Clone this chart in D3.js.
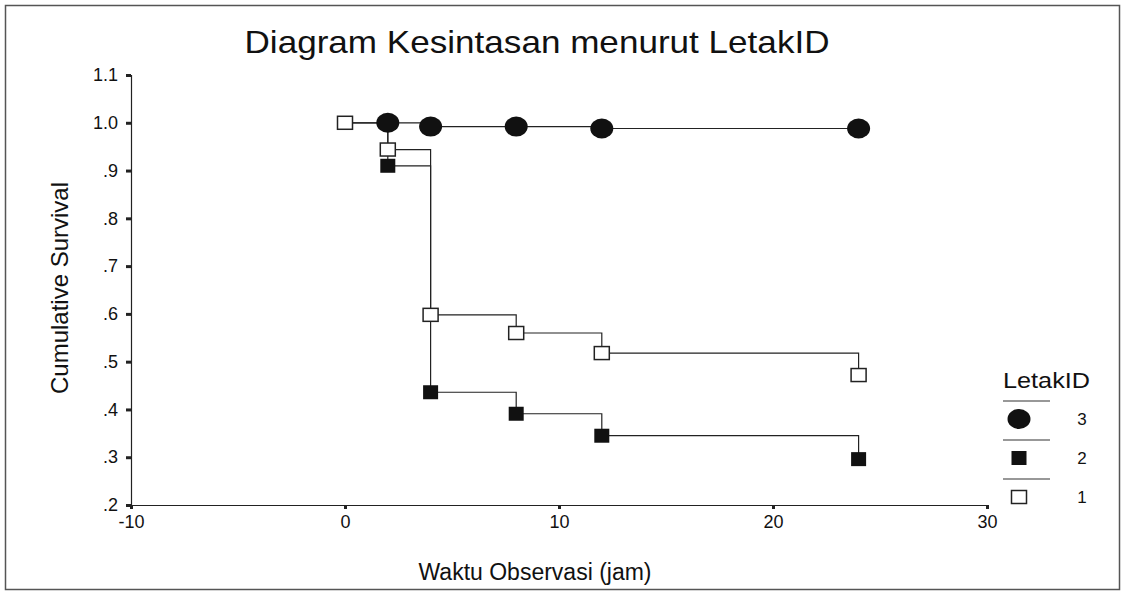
<!DOCTYPE html>
<html>
<head>
<meta charset="utf-8">
<script src="https://cdn.jsdelivr.net/npm/d3@7"></script>
<style>
  body { margin: 0; background: #fff; }
  text { font-family: "Liberation Sans", Arial, sans-serif; fill: #111; }
  .axis path, .axis line { stroke: #222; }
</style>
</head>
<body>
<div id="chart"></div>
<script>
// survival data
var groups = ["3", "2", "1"];
var times1 = [0, 2, 4, 8, 12, 24];
var surv1 = [1.0, 0.944, 0.598, 0.56, 0.518, 0.472];
var times2 = [2, 4, 8, 12, 24];
var surv2 = [0.91, 0.436, 0.391, 0.345, 0.296];
var times3 = [2, 4, 8, 12, 24];
var surv3 = [1.0, 0.992, 0.992, 0.988, 0.988];

var xTicks = [-10, 0, 10, 20, 30];
var xTickLabels = ["-10", "0", "10", "20", "30"];
var yTicks = [0.2, 0.3, 0.4, 0.5, 0.6, 0.7, 0.8, 0.9, 1.0, 1.1];
var yTickLabels = [".2", ".3", ".4", ".5", ".6", ".7", ".8", ".9", "1.0", "1.1"];

var W = 1127, H = 592;
var svg = d3.select("#chart").append("svg")
    .attr("width", W)
    .attr("height", H);

// outer frame
svg.append("rect")
    .attr("x", 5.5).attr("y", 5.5)
    .attr("width", 1114).attr("height", 584)
    .attr("fill", "none")
    .attr("stroke", "#555")
    .attr("stroke-width", 1.5);

var x = d3.scaleLinear().domain([-10, 30]).range([131, 987]);
var y = d3.scaleLinear().domain([0.2, 1.1]).range([505, 75]);

/*********************
 * AXES
 *********************/
var xAxis = svg.append("g")
    .attr("class", "axis")
    .attr("transform", "translate(0,505)")
    .call(d3.axisBottom(x).tickValues(xTicks)
        .tickFormat(function (d, i) { return xTickLabels[i]; })
        .tickSize(4).tickPadding(6).tickSizeOuter(0));
xAxis.selectAll("line").attr("stroke-width", 3);
xAxis.selectAll("text").style("font-size", "18px");
xAxis.select(".domain").attr("stroke-width", 1.2);

var yAxis = svg.append("g")
    .attr("class", "axis")
    .attr("transform", "translate(131,0)")
    .call(d3.axisLeft(y).tickValues(yTicks)
        .tickFormat(function (d, i) { return yTickLabels[i]; })
        .tickSize(5).tickPadding(8).tickSizeOuter(0));
yAxis.selectAll("line").attr("stroke-width", 3);
yAxis.selectAll("text").style("font-size", "18px");
yAxis.select(".domain").attr("stroke-width", 1.2);
yAxis.select(".domain").attr("d", "M0.5," + y(1.1) + "V" + y(0.2));
xAxis.select(".domain").attr("d", "M" + x(-10) + ",0.5H" + x(30));

// titles
svg.append("text")
    .attr("x", 537).attr("y", 53)
    .attr("text-anchor", "middle")
    .attr("textLength", 585)
    .attr("lengthAdjust", "spacingAndGlyphs")
    .style("font-size", "32px")
    .text("Diagram Kesintasan menurut LetakID");

svg.append("text")
    .attr("x", 535).attr("y", 580)
    .attr("text-anchor", "middle")
    .style("font-size", "23px")
    .text("Waktu Observasi (jam)");

svg.append("text")
    .attr("transform", "translate(68,288) rotate(-90)")
    .attr("text-anchor", "middle")
    .style("font-size", "24px")
    .text("Cumulative Survival");

/*********************
 * CURVES
 *********************/
function pts(times, surv, start) {
    var p = times.map(function (t, i) { return { t: t, s: surv[i] }; });
    if (start) p.unshift({ t: 0, s: 1.0 });
    return p;
}
var series = [
    { key: "3", pts: pts(times3, surv3, false), marks: pts(times3, surv3, false) },
    { key: "2", pts: pts(times2, surv2, true), marks: pts(times2, surv2, false) },
    { key: "1", pts: pts(times1, surv1, false), marks: pts(times1, surv1, false) }
];

var line = d3.line()
    .x(function (d) { return x(d.t); })
    .y(function (d) { return y(d.s); })
    .curve(d3.curveStepAfter);

svg.selectAll("path.curve")
    .data(series)
    .enter()
    .append("path")
    .attr("class", "curve")
    .attr("d", function (d) { return line(d.pts); })
    .attr("fill", "none")
    .attr("stroke", "#222")
    .attr("stroke-width", 1.2);

function drawMark(g, key, cx, cy) {
    if (key === "3") {
        g.append("ellipse")
            .attr("cx", cx).attr("cy", cy)
            .attr("rx", 11.5).attr("ry", 10)
            .attr("fill", "#111");
    } else if (key === "2") {
        g.append("rect")
            .attr("x", cx - 7.5).attr("y", cy - 7)
            .attr("width", 15).attr("height", 14)
            .attr("fill", "#111");
    } else {
        g.append("rect")
            .attr("x", cx - 7.5).attr("y", cy - 6.5)
            .attr("width", 15).attr("height", 13)
            .attr("fill", "#fff")
            .attr("stroke", "#222")
            .attr("stroke-width", 1.5);
    }
}

var markG = svg.append("g");
series.forEach(function (s) {
    s.marks.forEach(function (d) {
        drawMark(markG, s.key, x(d.t), y(d.s));
    });
});

/*********************
 * LEGEND
 *********************/
svg.append("text")
    .attr("x", 1003).attr("y", 388)
    .attr("textLength", 87)
    .attr("lengthAdjust", "spacingAndGlyphs")
    .style("font-size", "22px")
    .text("LetakID");

var legend = svg.append("g");
groups.forEach(function (k, i) {
    var ly = 401 + i * 39;
    legend.append("line")
        .attr("x1", 1003).attr("x2", 1050)
        .attr("y1", ly).attr("y2", ly)
        .attr("stroke", "#333").attr("stroke-width", 1.2);
    drawMark(legend, k, 1019, ly + 18);
    legend.append("text")
        .attr("x", 1082).attr("y", ly + 24)
        .attr("text-anchor", "middle")
        .style("font-size", "17px")
        .text(k);
});
</script>
</body>
</html>
